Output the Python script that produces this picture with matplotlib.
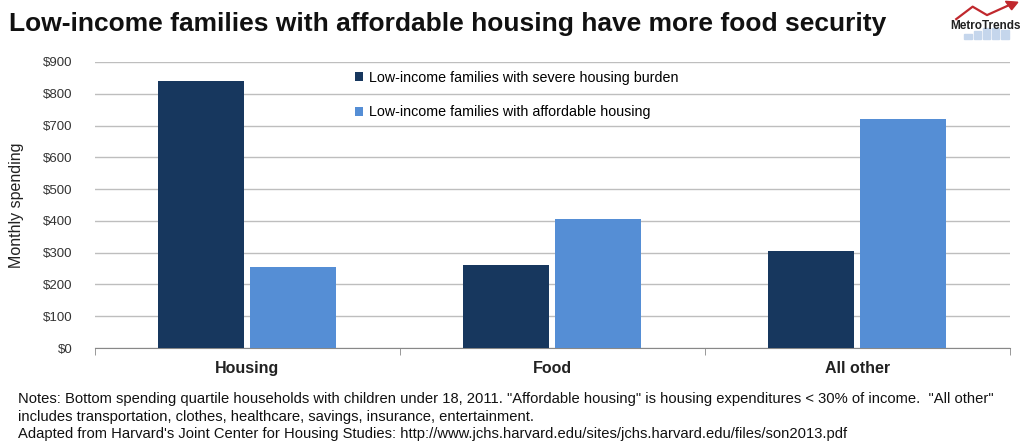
import numpy as np
import matplotlib
matplotlib.use("Agg")
import matplotlib.pyplot as plt
from matplotlib.ticker import FuncFormatter

plt.rcParams["font.family"] = ["Liberation Sans", "DejaVu Sans"]

categories = ["Housing", "Food", "All other"]
severe_burden = [840, 260, 305]
affordable = [255, 405, 720]
series_names = [
    "Low-income families with severe housing burden",
    "Low-income families with affordable housing",
]
yticks = list(range(0, 1000, 100))

DARK = "#17375E"
LIGHT = "#558ED5"

fig = plt.figure(figsize=(10.26, 4.44), dpi=100)
ax = fig.add_axes([0.0926, 0.2162, 0.8914, 0.6442])

x = np.arange(len(categories))
w = 0.282
b1 = ax.bar(x - 0.151, severe_burden, width=w, color=DARK, zorder=3)
b2 = ax.bar(x + 0.151, affordable, width=w, color=LIGHT, zorder=3)

ax.set_xlim(-0.5, 2.5)
ax.set_ylim(0, 900)
ax.set_yticks(yticks)
ax.yaxis.set_major_formatter(FuncFormatter(lambda v, p: f"${int(v)}"))
ax.grid(axis="y", color="#BEBEBE", linewidth=1.0, zorder=0)
ax.tick_params(axis="y", length=0, labelsize=9.5, labelcolor="#333333", pad=16)

ax.set_xticks(x)
ax.set_xticklabels(categories, fontsize=11.5, fontweight="bold", color="#222222")
ax.set_xticks([-0.5, 0.5, 1.5, 2.5], minor=True)
ax.tick_params(axis="x", which="major", length=0, pad=9)
ax.tick_params(axis="x", which="minor", length=5, color="#888888", direction="out")

for s in ["top", "right", "left"]:
    ax.spines[s].set_visible(False)
ax.spines["bottom"].set_color("#888888")

ax.set_ylabel("Monthly spending", fontsize=11.5, color="#222222", labelpad=14)

leg = ax.legend([b1, b2], series_names, loc="upper left", bbox_to_anchor=(0.27, 1.015),
                frameon=False, fontsize=10.3, handlelength=0.6, handleheight=0.6,
                handletextpad=0.4, labelspacing=1.45)

fig.text(0.009, 0.945, "Low-income families with affordable housing have more food security",
         fontsize=19, fontweight="bold", color="#111111", va="center")

# MetroTrends logo
fig.text(0.995, 0.942, "MetroTrends", fontsize=8.5, fontweight="bold", color="#222222",
         ha="right", va="center")
lx = [0.932, 0.948, 0.962, 0.985]
ly = [0.957, 0.985, 0.966, 0.99]
fig.add_artist(plt.Line2D(lx, ly, color="#C0282D", linewidth=1.6, transform=fig.transFigure))
fig.add_artist(plt.Polygon([[0.992, 0.995], [0.980, 0.997], [0.986, 0.978]],
                           color="#C0282D", transform=fig.transFigure))
for i, h in enumerate([0.012, 0.018, 0.024, 0.024, 0.02]):
    fig.add_artist(plt.Rectangle((0.940 + i * 0.009, 0.912), 0.007, h,
                                 color="#C5D6EC", transform=fig.transFigure, zorder=0))

notes = ('Notes: Bottom spending quartile households with children under 18, 2011. "Affordable housing" is housing expenditures < 30% of income.  "All other"\n'
         'includes transportation, clothes, healthcare, savings, insurance, entertainment.\n'
         "Adapted from Harvard's Joint Center for Housing Studies: http://www.jchs.harvard.edu/sites/jchs.harvard.edu/files/son2013.pdf")
fig.text(0.018, 0.117, notes, fontsize=10.6, color="#111111", va="top", linespacing=1.33,
         fontstretch="condensed")

fig.savefig("out.png", dpi=100)
